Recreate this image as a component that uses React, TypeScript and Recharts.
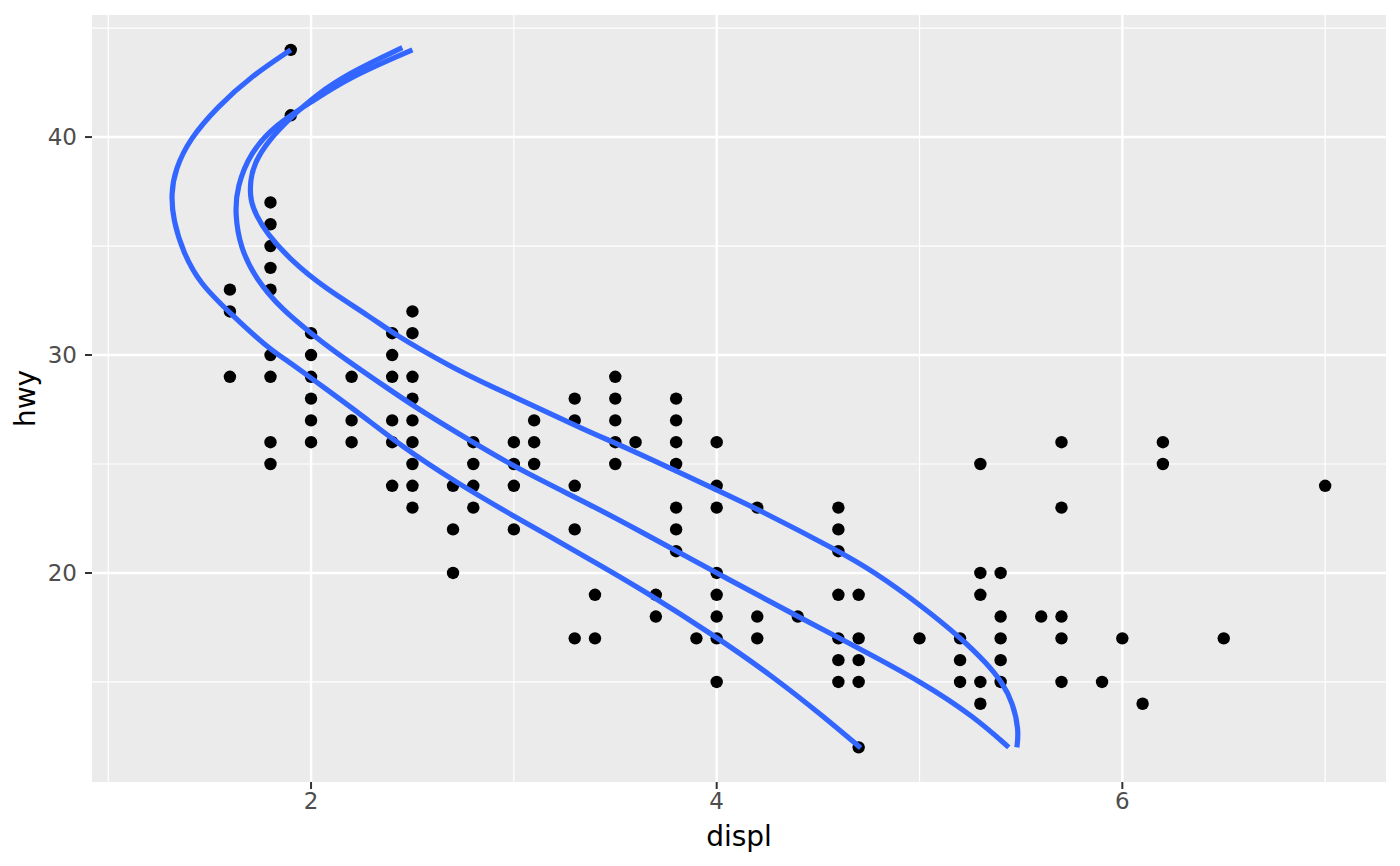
import { ComposedChart, Scatter, Line, XAxis, YAxis, CartesianGrid } from 'recharts';

// engine displacement columns and the hwy values seen in each
const displ = [1.6, 1.8, 1.9, 2.0, 2.2, 2.4, 2.5, 2.7, 2.8, 3.0, 3.1, 3.3, 3.4, 3.5, 3.6, 3.7, 3.8, 3.9, 4.0, 4.2, 4.4, 4.6, 4.7, 5.0, 5.2, 5.3, 5.4, 5.6, 5.7, 5.9, 6.0, 6.1, 6.2, 6.5, 7.0];
const hwyByDispl = [
  [33, 32, 29],
  [37, 36, 35, 34, 33, 30, 29, 26, 25],
  [44, 41],
  [31, 30, 29, 28, 27, 26],
  [29, 27, 26],
  [31, 30, 29, 27, 26, 24],
  [32, 31, 29, 28, 27, 26, 25, 24, 23],
  [24, 22, 20],
  [26, 25, 24, 23],
  [26, 25, 24, 22],
  [27, 26, 25],
  [28, 27, 24, 22, 17],
  [19, 17],
  [29, 28, 27, 26, 25],
  [26],
  [19, 18],
  [28, 27, 26, 25, 23, 22, 21],
  [17],
  [26, 24, 23, 20, 19, 18, 17, 15],
  [23, 18, 17],
  [18],
  [23, 22, 21, 19, 17, 16, 15],
  [19, 17, 16, 15, 12],
  [17],
  [17, 16, 15],
  [25, 20, 19, 15, 14],
  [20, 18, 17, 16, 15],
  [18],
  [26, 23, 18, 17, 15],
  [15],
  [17],
  [14],
  [26, 25],
  [17],
  [24],
];

// quantile curves
const lowDispl = [1.90, 1.70, 1.54, 1.40, 1.33, 1.31, 1.32, 1.37, 1.45, 1.60, 1.78, 1.90, 2.00, 2.23, 2.45, 2.72, 2.98, 3.38, 3.62, 4.00, 4.28, 4.53, 4.71];
const lowHwy = [44.0, 42.75, 41.4, 39.9, 38.5, 37.4, 36.2, 34.7, 33.3, 31.93, 30.37, 29.63, 28.94, 27.39, 25.78, 24.13, 22.71, 20.6, 19.31, 17.06, 15.23, 13.39, 11.97];

const midDispl = [2.50, 2.19, 2.00, 1.83, 1.70, 1.635, 1.625, 1.65, 1.73, 1.86, 2.00, 2.09, 2.39, 2.55, 2.82, 3.05, 3.38, 3.62, 4.00, 4.40, 4.69, 5.02, 5.27, 5.44];
const midHwy = [44.0, 42.75, 41.6, 40.6, 39.3, 37.7, 36.5, 34.95, 33.45, 32.06, 31.01, 30.32, 28.39, 27.39, 25.87, 24.63, 23.12, 21.93, 20.0, 18.0, 16.6, 14.95, 13.4, 12.0];

const highDispl = [2.45, 2.19, 2.02, 1.90, 1.79, 1.72, 1.70, 1.70, 1.73, 1.78, 1.90, 2.06, 2.31, 2.40, 2.69, 2.88, 3.16, 3.33, 3.50, 3.62, 4.00, 4.20, 4.60, 4.77, 5.01, 5.21, 5.33, 5.41, 5.46, 5.49, 5.48];
const highHwy = [44.1, 42.95, 41.9, 40.9, 39.85, 38.8, 38.0, 37.1, 36.4, 35.6, 34.35, 33.12, 31.65, 31.01, 29.45, 28.6, 27.4, 26.65, 25.96, 25.46, 23.81, 22.94, 21.01, 20.09, 18.5, 16.97, 15.87, 14.95, 14.04, 12.8, 12.0];

const majorX = [2, 4, 6];
const minorX = [1, 3, 5, 7];
const majorY = [20, 30, 40];
const minorY = [15, 25, 35, 45];

const points = displ.flatMap((d, i) => hwyByDispl[i].map((h) => ({ x: d, y: h })));
const toCurve = (xs: number[], ys: number[]) => xs.map((x, i) => ({ x, y: ys[i] }));
const curves = [toCurve(lowDispl, lowHwy), toCurve(midDispl, midHwy), toCurve(highDispl, highHwy)];

const font = 'DejaVu Sans';
const tickStyle = { fill: '#4D4D4D', fontSize: 23, fontFamily: font };

const Dot = (p: any) => <circle cx={p.cx} cy={p.cy} r={6.2} fill="#000000" />;

const XTitle = ({ viewBox }: any) => {
  const cx = viewBox ? viewBox.x + viewBox.width / 2 : 739;
  return (
    <text x={cx} y={846} textAnchor="middle" fontFamily={font} fontSize={28} fill="#000000">
      displ
    </text>
  );
};

const YTitle = ({ viewBox }: any) => {
  const cy = viewBox ? viewBox.y + viewBox.height / 2 : 398;
  const cx = 35;
  return (
    <text x={cx} y={cy} transform={`rotate(-90, ${cx}, ${cy})`} textAnchor="middle" fontFamily={font} fontSize={28} fill="#000000">
      hwy
    </text>
  );
};

export default function App() {
  return (
    <div style={{ position: 'absolute', left: 0, top: 0, width: 1400, height: 866, background: '#FFFFFF' }}>
      <ComposedChart width={1400} height={866} margin={{ top: 15, right: 14, bottom: 0, left: 0 }}>
        <CartesianGrid fill="#EBEBEB" fillOpacity={1} stroke="#FFFFFF" strokeWidth={1.2} verticalValues={minorX} horizontalValues={minorY} />
        <CartesianGrid stroke="#FFFFFF" strokeWidth={2.4} verticalValues={majorX} horizontalValues={majorY} />
        <XAxis
          type="number"
          dataKey="x"
          domain={[0.92, 7.3]}
          allowDataOverflow
          ticks={majorX}
          axisLine={false}
          tickLine={{ stroke: '#333333', strokeWidth: 2 }}
          tickSize={7}
          tickMargin={4}
          tick={tickStyle}
          height={84}
          label={XTitle}
        />
        <YAxis
          type="number"
          dataKey="y"
          domain={[10.41, 45.6]}
          allowDataOverflow
          ticks={majorY}
          axisLine={false}
          tickLine={{ stroke: '#333333', strokeWidth: 2 }}
          tickSize={7}
          tickMargin={8}
          tick={tickStyle}
          width={92}
          label={YTitle}
        />
        <Scatter data={points} shape={Dot} isAnimationActive={false} />
        {curves.map((c, i) => (
          <Line
            key={i}
            data={c}
            dataKey="y"
            type="basis"
            stroke="#3366FF"
            strokeWidth={5.2}
            dot={false}
            activeDot={false}
            isAnimationActive={false}
            zIndex={700}
          />
        ))}
      </ComposedChart>
    </div>
  );
}
